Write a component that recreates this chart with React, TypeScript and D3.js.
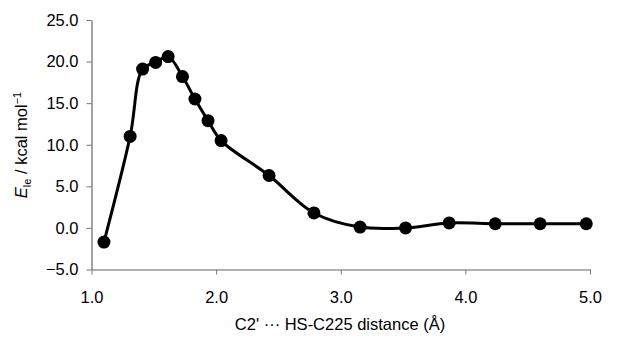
import React, { useRef, useEffect } from 'react';
import * as d3 from 'd3';

// distances (Å) and energies (kcal/mol)
const distances = [1.1, 1.31, 1.41, 1.515, 1.615, 1.73, 1.83, 1.935, 2.04, 2.425, 2.785, 3.155, 3.52, 3.87, 4.24, 4.6, 4.97];
const energies = [-1.7, 11.0, 19.1, 19.9, 20.6, 18.2, 15.5, 12.9, 10.5, 6.3, 1.8, 0.1, 0.0, 0.6, 0.5, 0.5, 0.5];
const xTicks = [1, 2, 3, 4, 5];
const yTicks = [-5, 0, 5, 10, 15, 20, 25];

const FONT = "'Liberation Sans', Arial, sans-serif";

export default function App() {
  const ref = useRef<SVGSVGElement>(null);

  useEffect(() => {
    if (!ref.current) return;
    const svg = d3.select(ref.current);
    svg.selectAll('*').remove();

    const x = d3.scaleLinear().domain([1, 5]).range([91.5, 590]);
    const y = d3.scaleLinear().domain([-5, 25]).range([269.5, 20]);

    const xAxis = svg
      .append('g')
      .attr('transform', `translate(0,${y(-5)})`)
      .call(
        d3.axisBottom(x).tickValues(xTicks).tickSize(5).tickSizeOuter(0).tickPadding(17)
          .tickFormat((d) => d3.format('.1f')(d as number))
      );
    const yAxis = svg
      .append('g')
      .attr('transform', `translate(${x(1)},0)`)
      .call(
        d3.axisLeft(y).tickValues(yTicks).tickSize(5).tickSizeOuter(0).tickPadding(8)
          .tickFormat((d) => d3.format('.1f')(d as number))
      );

    [xAxis, yAxis].forEach((g) => {
      g.select('.domain').attr('stroke', '#666').attr('stroke-width', 1.2);
      g.selectAll('.tick line').attr('stroke', '#777');
      g.selectAll('.tick text')
        .attr('fill', '#000')
        .style('font-family', FONT)
        .style('font-size', '16.5px');
    });

    const line = d3
      .line<number>()
      .x((d, i) => x(distances[i]))
      .y((d) => y(d))
      .curve(d3.curveCatmullRom.alpha(0.5));

    svg
      .append('path')
      .datum(energies)
      .attr('d', line)
      .attr('fill', 'none')
      .attr('stroke', '#000')
      .attr('stroke-width', 3);

    svg
      .selectAll('circle')
      .data(energies)
      .enter()
      .append('circle')
      .attr('cx', (d, i) => x(distances[i]))
      .attr('cy', (d) => y(d))
      .attr('r', 6.5)
      .attr('fill', '#000');

    svg
      .append('text')
      .attr('x', 340)
      .attr('y', 330)
      .attr('text-anchor', 'middle')
      .style('font-family', FONT)
      .style('font-size', '16.5px')
      .text("C2' \u00B7\u00B7\u00B7 HS-C225 distance (\u00C5)");

    const yt = svg
      .append('text')
      .attr('transform', 'translate(27,145) rotate(-90)')
      .attr('text-anchor', 'middle')
      .style('font-family', FONT)
      .style('font-size', '16.5px');
    yt.append('tspan').style('font-style', 'italic').text('E');
    yt.append('tspan').attr('dy', 4).style('font-size', '11px').text('le');
    yt.append('tspan').attr('dy', -4).text(' / kcal mol');
    yt.append('tspan').attr('dy', -6).style('font-size', '11px').text('\u22121');
  }, []);

  return (
    <div style={{ position: 'absolute', left: 0, top: 0 }}>
      <svg ref={ref} width={620} height={338} style={{ display: 'block', background: '#fff' }} />
    </div>
  );
}
